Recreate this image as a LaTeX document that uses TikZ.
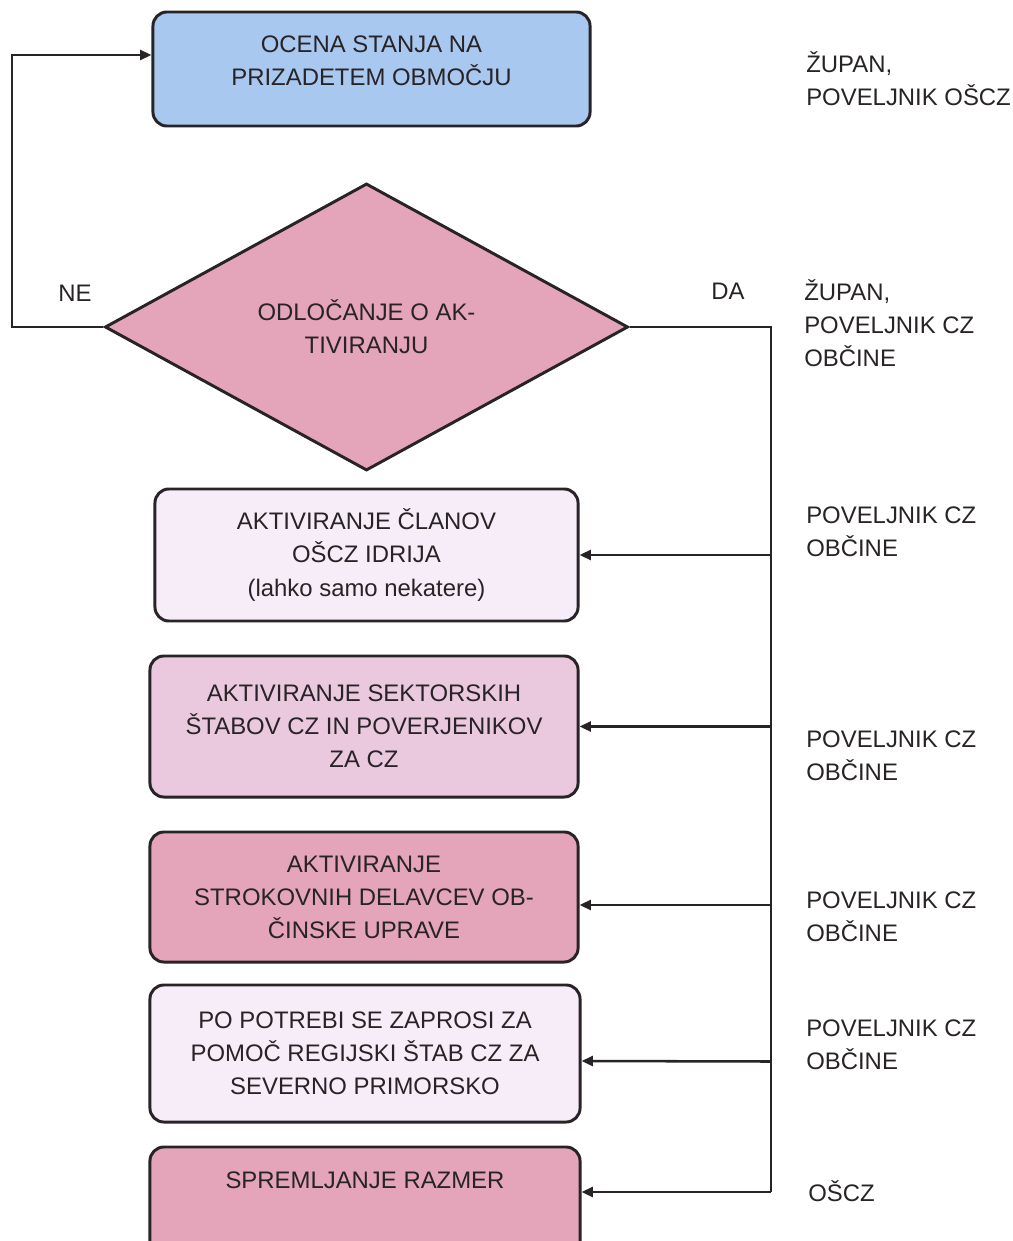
\documentclass[tikz,border=0pt]{standalone}
\usepackage{fontspec}
\setmainfont{Liberation Sans}
\usetikzlibrary{arrows.meta,shapes.geometric}

\definecolor{skyfill}{RGB}{168,200,240}
\definecolor{rosefill}{RGB}{228,164,186}
\definecolor{lilacfill}{RGB}{247,237,248}
\definecolor{mauvefill}{RGB}{234,201,222}
\definecolor{inkgray}{RGB}{40,35,38}

\tikzset{
  stepbox/.style={draw=inkgray, line width=2.1pt, rounded corners=0.35cm,
    align=center, text=inkgray, inner sep=0pt},
  boxtext/.style={align=center, text=inkgray, inner sep=0pt},
  decision/.style={diamond, draw=inkgray, line width=2.1pt, aspect=1.8,
    align=center, text=inkgray, inner sep=0pt},
  role/.style={align=left, anchor=west, text=inkgray, inner sep=0pt},
  flow/.style={draw=inkgray, line width=1.8pt, -{Triangle[length=8pt,width=7pt]}},
  wire/.style={draw=inkgray, line width=1.8pt}
}

\begin{document}
\begin{tikzpicture}[x=0.025cm, y=-0.025cm,
  every node/.style={font=\fontsize{17}{23.5}\selectfont}]
  \path[use as bounding box] (0,0) rectangle (1012,1241);
  \clip (0,0) rectangle (1012,1241);

  % boxes of the procedure
  \node[stepbox, fill=skyfill, minimum width=10.925cm, minimum height=2.85cm] (ocena) at (371.5,69) {};
  \node[boxtext] (ocenaT) at (371.5,61) {OCENA STANJA NA\\PRIZADETEM OBMOČJU};
  \node[decision, fill=rosefill, minimum width=13.075cm, minimum height=7.175cm] (odlocanje) at (366.5,327)
    {ODLOČANJE O AK-\\TIVIRANJU};
  \node[stepbox, fill=lilacfill, minimum width=10.575cm, minimum height=3.3cm] (clanov) at (366.5,555)
    {AKTIVIRANJE ČLANOV\\OŠCZ IDRIJA\\(lahko samo nekatere)};
  \node[stepbox, fill=mauvefill, minimum width=10.7cm, minimum height=3.525cm] (stabi) at (364,726.5)
    {AKTIVIRANJE SEKTORSKIH\\ŠTABOV CZ IN POVERJENIKOV\\ZA CZ};
  \node[stepbox, fill=rosefill, minimum width=10.7cm, minimum height=3.25cm] (delavci) at (364,897)
    {AKTIVIRANJE\\STROKOVNIH DELAVCEV OB-\\ČINSKE UPRAVE};
  \node[stepbox, fill=lilacfill, minimum width=10.75cm, minimum height=3.425cm] (pomoc) at (365,1053.5)
    {PO POTREBI SE ZAPROSI ZA\\POMOČ REGIJSKI ŠTAB CZ ZA\\SEVERNO PRIMORSKO};
  \node[stepbox, fill=rosefill, minimum width=10.75cm, minimum height=3.4cm] (spremljanje) at (365,1215) {};
  \node[boxtext] (spremljanjeT) at (365,1180) {SPREMLJANJE RAZMER};

  % answers
  \node[boxtext] (ne) at (75,293) {NE};
  \node[boxtext] (da) at (728,291) {DA};

  % who is in charge
  \node[role] (r1) at (806,79) {ŽUPAN,\\POVELJNIK OŠCZ};
  \node[role] (r2) at (804,323) {ŽUPAN,\\POVELJNIK CZ\\OBČINE};
  \node[role] (r3) at (806,532) {POVELJNIK CZ\\OBČINE};
  \node[role] (r4) at (806,756) {POVELJNIK CZ\\OBČINE};
  \node[role] (r5) at (806,917) {POVELJNIK CZ\\OBČINE};
  \node[role] (r6) at (806,1045) {POVELJNIK CZ\\OBČINE};
  \node[role] (r7) at (808,1191) {OŠCZ};

  % connectors
  \coordinate (loop) at (12,55);
  \draw[flow] (odlocanje.west) -| (loop) -- (ocena.west |- loop);
  \coordinate (bus) at (771,327);
  \coordinate (busend) at (771,1192);
  \draw[wire] (odlocanje.east) -- (bus) -- (busend);
  \draw[flow] (bus |- clanov.east) -- (clanov.east);
  \draw[flow] (bus |- stabi.east) -- (stabi.east);
  \draw[flow] (bus |- delavci.east) ++(0,8) -- (delavci.east |- 0,905);
  \draw[flow] (bus |- pomoc.east) ++(0,8) -- (pomoc.east |- 0,1061);
  \draw[flow] (busend) -- (spremljanje.east |- busend);
\end{tikzpicture}
\end{document}
